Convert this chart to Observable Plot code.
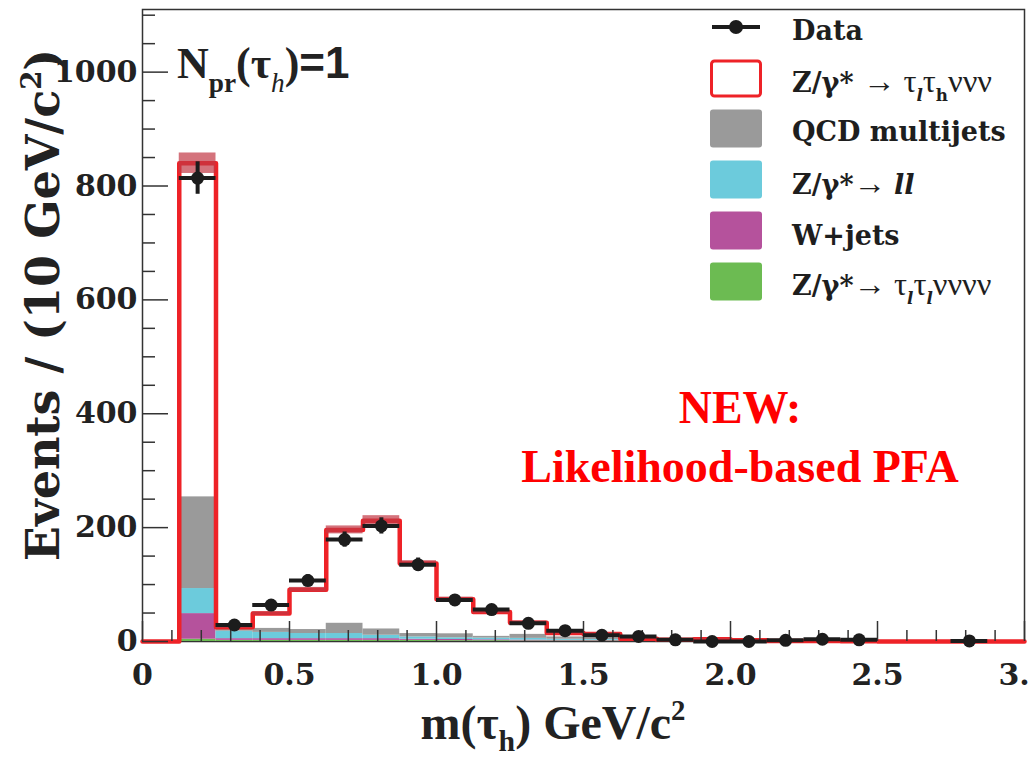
<!DOCTYPE html>
<html>
<head>
<meta charset="utf-8">
<script src="https://cdn.jsdelivr.net/npm/d3@7"></script>
<script src="https://cdn.jsdelivr.net/npm/@observablehq/plot@0.6"></script>
<style>
  html, body { margin: 0; padding: 0; background: #fff; }
  #figure { position: relative; width: 1030px; height: 757px; overflow: hidden; }
  #figure > svg { position: absolute; left: 0; top: 0; }
  #overlay { pointer-events: none; }
</style>
</head>
<body>
<div id="figure"></div>
<script>
// m(tau_h) histogram, 0.125 GeV/c^2 bins starting at 0.125
const binLow = [0.125, 0.25, 0.375, 0.5, 0.625, 0.75, 0.875, 1.0, 1.125, 1.25, 1.375, 1.5,
                1.625, 1.75, 1.875, 2.0, 2.125, 2.25, 2.375, 2.5, 2.625, 2.75, 2.875];
const binWidth = 0.125;

// observed events (null = no entry drawn)
const dataCounts = [814, 29, 64, 107, 179, 203, 135, 73, 56, 32, 19, 11,
                    9, 3, 0, 0, 2, 4, 3, null, null, 1, null];

// total prediction (stack top) and its uncertainty
const totalMC    = [840, 25, 49, 91, 196, 212, 137, 74, 52, 33, 15, 13,
                    5, 3, 4, 2, 1, 1, 0.5, 0, 0, 0, 0];
const totalMCErr = [18, 2, 3, 4, 7, 9, 5, 4, 3, 3, 2, 2,
                    1, 1, 1, 0.5, 0.5, 0.5, 0.3, 0, 0, 0, 0];

// background components, stacked bottom to top
const bkgZtautau = [4, 2, 2, 2, 2, 2, 2, 1.5, 1.5, 1, 1, 1, 1, 0.5, 0.5, 0.3, 0.3, 0.3, 0.2, 0, 0, 0, 0];
const bkgWjets   = [45, 3, 3, 3, 3, 3, 2, 2, 1.5, 1.5, 1, 1, 0.5, 0.3, 0.2, 0, 0, 0, 0, 0, 0, 0, 0];
const bkgZll     = [44, 13, 11, 9, 9, 6, 4, 3, 3, 3, 2, 1.5, 1, 0.5, 0.3, 0.2, 0, 0, 0, 0, 0, 0, 0];
const bkgQCD     = [161, 5, 7, 7, 18, 11, 6, 7, 3, 7, 4, 3, 2, 1, 1, 1, 0.5, 0.5, 0, 0, 0, 0, 0];

const compNames  = ["Ztautau", "Wjets", "Zll", "QCD"];
const compValues = [bkgZtautau, bkgWjets, bkgZll, bkgQCD];
const compColors = ["#6cbb52", "#b5529c", "#6ccbdc", "#9a9a9a"];
const signalRed  = "#ee2227";

// axes
const xMajorTicks = [0, 0.5, 1.0, 1.5, 2.0, 2.5, 3.0];
const xTickLabels = ["0", "0.5", "1.0", "1.5", "2.0", "2.5", "3.0"];
const xMinorTicks = [0.1, 0.2, 0.3, 0.4, 0.6, 0.7, 0.8, 0.9, 1.1, 1.2, 1.3, 1.4, 1.6, 1.7, 1.8, 1.9,
                     2.1, 2.2, 2.3, 2.4, 2.6, 2.7, 2.8, 2.9];
const yMajorTicks = [0, 200, 400, 600, 800, 1000];
const yTickLabels = ["0", "200", "400", "600", "800", "1000"];
const yMinorTicks = [50, 100, 150, 250, 300, 350, 450, 500, 550, 650, 700, 750, 850, 900, 950, 1050, 1100];

// ---- tables built from the arrays above ----
const bkgRows = [];
binLow.forEach((lo, i) => {
  let base = 0;
  compNames.forEach((name, k) => {
    const v = compValues[k][i];
    if (v > 0) bkgRows.push({x1: lo, x2: lo + binWidth, y1: base, y2: base + v, comp: name});
    base += v;
  });
});

const stepRows = [{x: 0, y: 0}];
binLow.forEach((lo, i) => stepRows.push({x: lo, y: totalMC[i]}));
stepRows.push({x: binLow[binLow.length - 1] + binWidth, y: totalMC[totalMC.length - 1]});

const bandRows = binLow.map((lo, i) => ({x1: lo, x2: lo + binWidth, y1: totalMC[i] - totalMCErr[i], y2: totalMC[i] + totalMCErr[i]}))
  .filter(d => d.y2 > d.y1);

const dataRows = binLow.map((lo, i) => ({lo, hi: lo + binWidth, x: lo + binWidth / 2, n: dataCounts[i]}))
  .filter(d => d.n != null);

const W = 1030, H = 757, mL = 142, mR = 6, mT = 9, mB = 116;
const plotW = W - mL - mR, plotH = H - mT - mB;
const axisColor = "#333";
const tickFont = "'DejaVu Serif', serif";

const chart = Plot.plot({
  width: W, height: H,
  marginLeft: mL, marginRight: mR, marginTop: mT, marginBottom: mB,
  x: {domain: [0, 3.0]},
  y: {domain: [0, 1110]},
  color: {domain: compNames, range: compColors},
  style: {fontFamily: tickFont, fontWeight: "bold", fontSize: "30px", color: "#222", background: "transparent", overflow: "visible"},
  marks: [
    Plot.frame({stroke: axisColor, strokeWidth: 1.5}),
    // stacked backgrounds
    Plot.rect(bkgRows, {x1: "x1", x2: "x2", y1: "y1", y2: "y2", fill: "comp"}),
    // total prediction outline
    Plot.line(stepRows, {x: "x", y: "y", curve: "step-after", stroke: signalRed, strokeWidth: 4.5}),
    // prediction uncertainty
    Plot.rect(bandRows, {x1: "x1", x2: "x2", y1: "y1", y2: "y2", fill: "#c23844", fillOpacity: 0.7}),
    // inward ticks
    Plot.ruleX(xMajorTicks, {x: d => d, insetTop: plotH - 20, stroke: axisColor, strokeWidth: 1.5}),
    Plot.ruleX(xMinorTicks, {x: d => d, insetTop: plotH - 11, stroke: axisColor, strokeWidth: 1.5}),
    Plot.ruleY(yMajorTicks, {y: d => d, insetRight: plotW - 26, stroke: axisColor, strokeWidth: 1.5}),
    Plot.ruleY(yMinorTicks, {y: d => d, insetRight: plotW - 13, stroke: axisColor, strokeWidth: 1.5}),
    Plot.axisX({ticks: xMajorTicks, tickSize: 0, tickPadding: 22, label: null,
                tickFormat: d => xTickLabels[xMajorTicks.indexOf(d)], fill: "#222"}),
    Plot.axisY({ticks: yMajorTicks, tickSize: 0, tickPadding: 5, label: null,
                tickFormat: d => yTickLabels[yMajorTicks.indexOf(d)], fill: "#222"}),
    // data with statistical errors
    Plot.ruleY(dataRows, {x1: "lo", x2: "hi", y: "n", stroke: "#1c1c1c", strokeWidth: 4}),
    Plot.ruleX(dataRows, {x: "x", y1: d => d.n - Math.sqrt(d.n), y2: d => d.n + Math.sqrt(d.n), stroke: "#1c1c1c", strokeWidth: 4}),
    Plot.dot(dataRows, {x: "x", y: "n", r: 6.5, fill: "#1c1c1c", stroke: "none"})
  ]
});
document.getElementById("figure").appendChild(chart);

// ---- annotations, axis titles and legend ----
const ov = d3.select("#figure").append("svg").attr("id", "overlay")
  .attr("width", W).attr("height", H);

function rich(x, y, parts, {size, family, weight = "bold", fill = "#222", anchor = "start", rotate = 0}) {
  const t = ov.append("text").attr("x", x).attr("y", y)
    .attr("font-size", size).attr("font-family", family).attr("font-weight", weight)
    .attr("fill", fill).attr("text-anchor", anchor);
  if (rotate) t.attr("transform", `rotate(${rotate} ${x} ${y})`);
  let shift = 0;
  for (const p of parts) {
    const s = p.sub ? size * (p.drop || 0.32) : p.sup ? -size * 0.4 : 0;
    const ts = t.append("tspan").text(p.t).attr("dy", s - shift);
    shift = s;
    if (p.sub || p.sup) ts.attr("font-size", size * (p.scale || 0.62));
    else if (p.scale) ts.attr("font-size", size * p.scale);
    if (p.italic) ts.attr("font-style", "italic");
    if (p.w) ts.attr("font-weight", p.w);
    if (p.family) ts.attr("font-family", p.family);
  }
  return t;
}

const serif = "'Liberation Serif', serif";
const dv = "'DejaVu Serif', serif";

// region label
rich(177, 78, [
  {t: "N"}, {t: "pr", sub: true}, {t: "(τ"}, {t: "h", sub: true, italic: true, w: "normal"},
  {t: ")"}, {t: "=1", family: "'Liberation Sans', sans-serif"}
], {size: 44, family: serif});

// highlight text
rich(740, 423, [{t: "NEW:"}], {size: 46, family: serif, fill: "#ff0000", anchor: "middle"});
rich(740, 482, [{t: "Likelihood-based PFA"}], {size: 46, family: serif, fill: "#ff0000", anchor: "middle"});

// axis titles
rich(553, 739, [{t: "m(τ"}, {t: "h", sub: true, drop: 0.24}, {t: ") GeV/c"}, {t: "2", sup: true, scale: 0.6}],
     {size: 48, family: serif, anchor: "middle"});
rich(59, 305, [{t: "Events / (10 GeV/c"}, {t: "2", sup: true, scale: 0.6}, {t: ")"}],
     {size: 46, family: dv, anchor: "middle", rotate: -90});

// legend
const legX = 710, swW = 52, swH = 38, labX = 792;
const greek = {w: "normal", family: serif, scale: 1.2};
const legendRows = [
  {kind: "data", cy: 27, base: 40, parts: [{t: "Data"}]},
  {kind: "box", cy: 78.5, base: 92, fill: "#fff", stroke: signalRed,
   parts: [{t: "Z/γ* "}, {t: "→ τ", ...greek}, {t: "l", sub: true, italic: true}, {t: "τ", ...greek}, {t: "h", sub: true}, {t: "ννν", ...greek}]},
  {kind: "box", cy: 128.5, base: 141, fill: compColors[3], parts: [{t: "QCD multijets"}]},
  {kind: "box", cy: 179.5, base: 194, fill: compColors[2],
   parts: [{t: "Z/γ*"}, {t: "→ ", ...greek}, {t: "ll", italic: true}]},
  {kind: "box", cy: 230.5, base: 245, fill: compColors[1], parts: [{t: "W+jets"}]},
  {kind: "box", cy: 281.5, base: 295, fill: compColors[0],
   parts: [{t: "Z/γ*"}, {t: "→ τ", ...greek}, {t: "l", sub: true, italic: true}, {t: "τ", ...greek}, {t: "l", sub: true, italic: true}, {t: "νννν", ...greek}]}
];
for (const r of legendRows) {
  if (r.kind === "data") {
    ov.append("line").attr("x1", legX + 2).attr("x2", legX + swW - 2).attr("y1", r.cy).attr("y2", r.cy)
      .attr("stroke", "#1c1c1c").attr("stroke-width", 4);
    ov.append("circle").attr("cx", legX + swW / 2).attr("cy", r.cy).attr("r", 7).attr("fill", "#1c1c1c");
  } else {
    const sw = r.stroke ? 3 : 0;
    ov.append("rect").attr("x", legX + sw / 2).attr("y", r.cy - swH / 2 + sw / 2)
      .attr("width", swW - sw).attr("height", swH - sw).attr("rx", 3)
      .attr("fill", r.fill).attr("stroke", r.stroke || "none").attr("stroke-width", sw);
  }
  rich(labX, r.base, r.parts, {size: 27, family: dv, fill: "#1e1e1e"});
}
</script>
</body>
</html>
